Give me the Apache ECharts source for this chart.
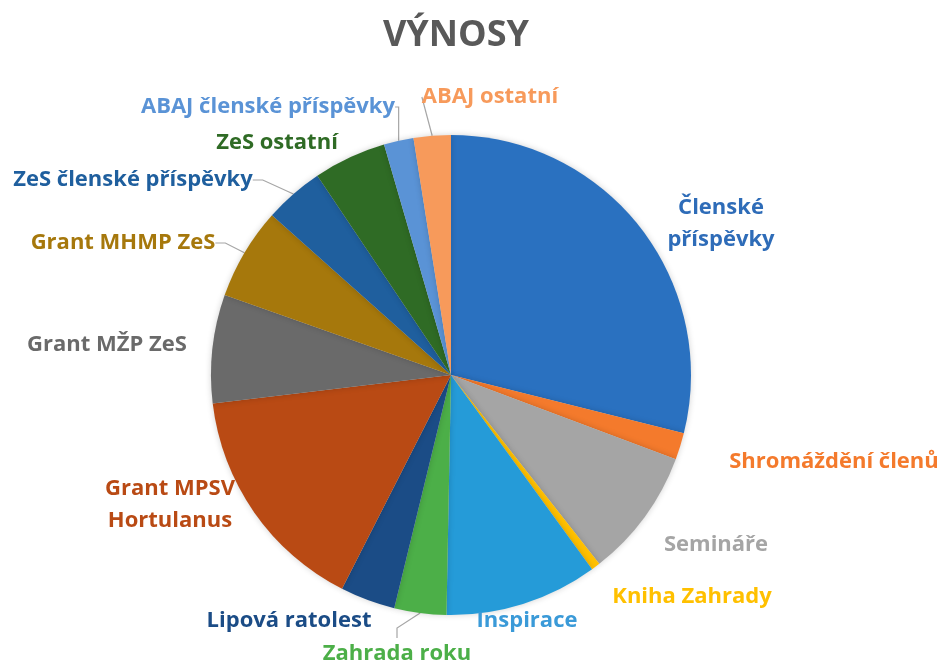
<!DOCTYPE html>
<html>
<head>
<meta charset="utf-8">
<script src="https://cdn.jsdelivr.net/npm/echarts@6/dist/echarts.min.js"></script>
<style>
  html, body { margin: 0; padding: 0; background: #fff; }
  #main { width: 944px; height: 666px; }
</style>
</head>
<body>
<div id="main"></div>
<script>
// kategorie a podíly (v %)
const categories = [
  'Členské\npříspěvky', 'Shromáždění členů', 'Semináře', 'Kniha Zahrady', 'Inspirace',
  'Zahrada roku', 'Lipová ratolest', 'Grant MPSV\nHortulanus', 'Grant MŽP ZeS',
  'Grant MHMP ZeS', 'ZeS členské příspěvky', 'ZeS ostatní', 'ABAJ členské příspěvky', 'ABAJ ostatní'
]
const values = [28.9, 1.8, 8.7, 0.6, 10.3, 3.5, 3.7, 15.6, 7.3, 6.2, 4.0, 4.9, 2.0, 2.5]

const colors = [
  '#2a71c0', '#f47a2c', '#a5a5a5', '#ffc000', '#259bd8', '#4caf48', '#1b4c86',
  '#b94a14', '#6a6a6a', '#a6780c', '#1f5f9e', '#2f6b25', '#5a93d6', '#f79a5b'
]
const labelColors = [
  '#2e6cb8', '#f47a2c', '#a5a5a5', '#ffc000', '#3a9ad8', '#4caf48', '#1b4c86',
  '#b94a14', '#6a6a6a', '#a6780c', '#1f5f9e', '#2f6b25', '#5a93d6', '#f79a5b'
]
// kde stoji popisky (stred textu) a jestli maji vodici caru
const labelPos = [
  [721, 224], [834, 462], [716, 545], [692, 597], [527, 621],
  [397, 654], [289, 621], [170, 505], [107, 345],
  [123, 243], [133, 180], [277, 143], [268, 107], [490, 97]
]
const withLine = [false, false, false, false, false, true, false, false, false, true, true, false, true, true]

const chart = echarts.init(document.getElementById('main'))
chart.setOption({
  backgroundColor: '#fff',
  title: {
    text: 'VÝNOSY',
    left: 451,
    textAlign: 'center',
    top: 13,
    textStyle: { fontFamily: 'Open Sans', fontSize: 36, fontWeight: 'bold', color: '#595959' }
  },
  series: [{
    type: 'pie',
    center: [451, 375],
    radius: 240,
    startAngle: 90,
    clockwise: true,
    avoidLabelOverlap: false,
    itemStyle: {
      shadowBlur: 6,
      shadowColor: 'rgba(0,0,0,0.18)'
    },
    label: {
      show: true,
      position: 'outside',
      formatter: '{b}',
      fontFamily: 'Open Sans',
      fontWeight: 'bold',
      fontSize: 22,
      lineHeight: 32,
      align: 'center'
    },
    labelLine: {
      show: true,
      length: 10,
      length2: 10,
      lineStyle: { color: '#a6a6a6', width: 1.2 }
    },
    labelLayout: function (p) {
      const pos = labelPos[p.dataIndex]
      return { x: pos[0], y: pos[1], align: 'center', verticalAlign: 'middle' }
    },
    data: categories.map(function (name, i) {
      return {
        name: name,
        value: values[i],
        itemStyle: { color: colors[i] },
        label: { color: labelColors[i] },
        labelLine: { show: withLine[i] }
      }
    })
  }]
})
</script>
</body>
</html>
